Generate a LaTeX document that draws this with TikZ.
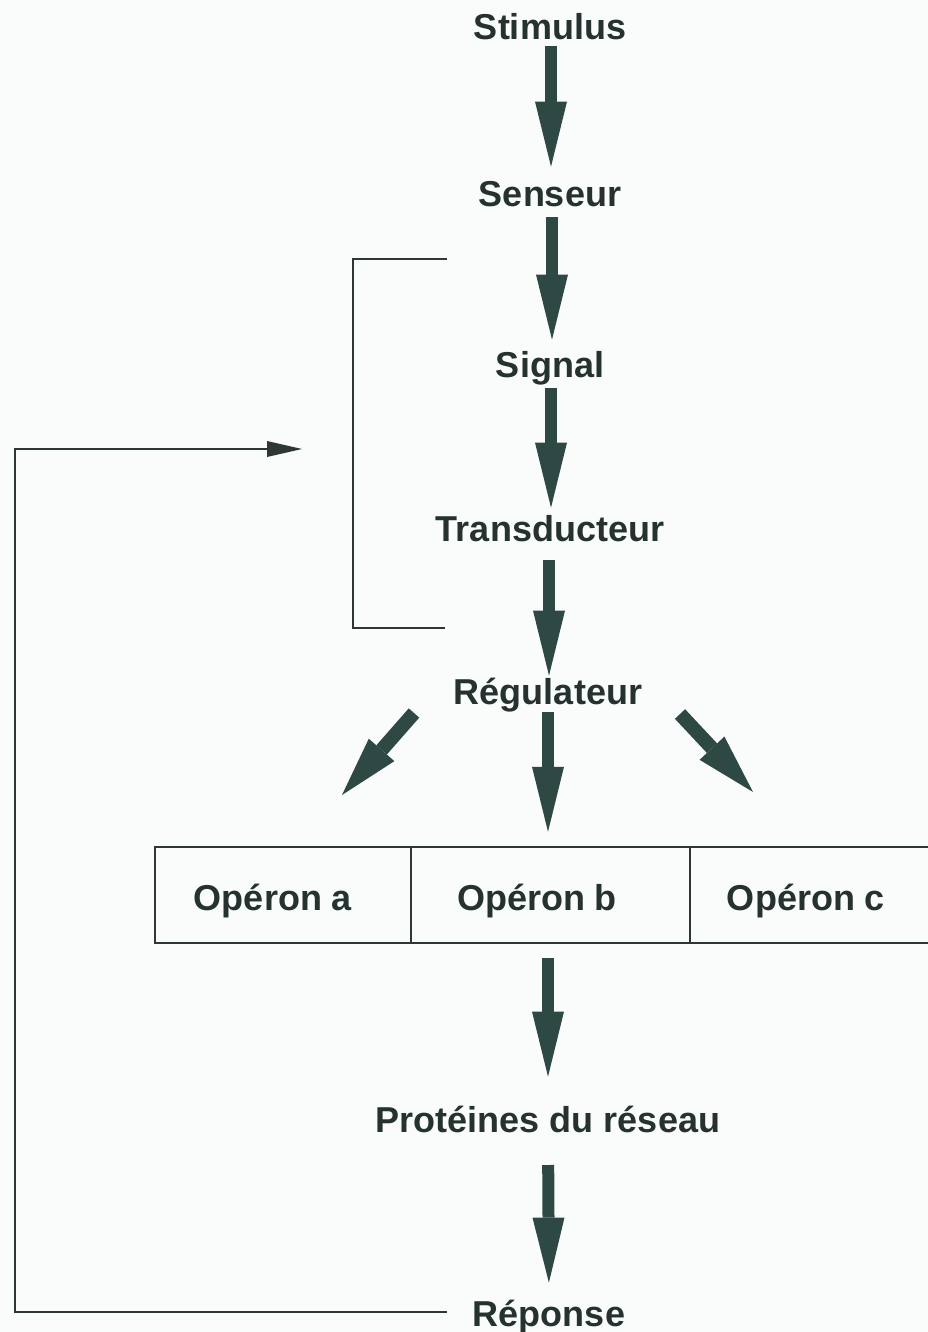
\documentclass[tikz,border=0pt]{standalone}
\usepackage{fontspec}
\setmainfont{Liberation Sans}
\usetikzlibrary{arrows.meta}
\definecolor{arrowc}{RGB}{46,72,67}
\definecolor{textc}{RGB}{38,50,48}
\definecolor{linec}{RGB}{45,55,53}
\definecolor{bgc}{RGB}{250,252,252}
\tikzset{
  lab/.style={inner sep=0pt, text height=26pt, text depth=0pt, anchor=south,
    font=\fontsize{36}{42}\selectfont\bfseries, text=textc},
  fat/.style={draw=arrowc, line width=12pt,
    -{Triangle[length=65pt,width=32pt,line width=0pt]}},
  diag/.style={draw=arrowc, line width=14pt,
    -{Triangle[length=60pt,width=34pt,line width=0pt]}},
  thinline/.style={draw=linec, line width=2.5pt},
  fbarrow/.style={thinline, -{Triangle[length=35pt,width=16pt,line width=0pt]}}
}
\begin{document}
\begin{tikzpicture}[x=1pt,y=-1pt]
\fill[bgc] (0,0) rectangle (928,1332);
\useasboundingbox (0,0) rectangle (928,1332);

% labels
\node[lab] (stim)  at (550,40)   {Stimulus};
\node[lab] (sens)  at (550,207)  {Senseur};
\node[lab] (sig)   at (550,378)  {Signal};
\node[lab] (trans) at (550,542)  {Transducteur};
\node[lab] (reg)   at (548,705)  {Régulateur};
\node[lab] (prot)  at (548,1133) {Protéines du réseau};
\node[lab] (rep)   at (549,1327) {Réponse};

% operon box
\node[thinline, draw, minimum width=780pt, minimum height=96pt, inner sep=0pt]
  (box) at (545,895) {};
\draw[thinline] (411,847) -- (411,943);
\draw[thinline] (690,847) -- (690,943);
\node[lab] (opa) at (273,911) {Opéron a};
\node[lab] (opb) at (537,911) {Opéron b};
\node[lab] (opc) at (806,911) {Opéron c};

% main vertical arrows
\draw[fat, shorten <=6pt, shorten >=14pt] (stim.south -| 551,0) -- (sens.north -| 551,0);
\draw[fat, shorten <=10pt, shorten >=12pt] (sens.south -| 552,0) -- (sig.north -| 552,0);
\draw[fat, shorten <=10pt, shorten >=8pt] (sig.south -| 551,0) -- (trans.north -| 551,0);
\draw[fat, shorten <=18pt, shorten >=3pt] (trans.south -| 549,0) -- (reg.north -| 549,0);
\draw[fat, shorten <=7pt, shorten >=14pt] (reg.south) -- (reg.south |- box.north);
\draw[fat, shorten <=14pt, shorten >=30pt] (prot.north |- box.south) -- (prot.north);
\draw[fat, shorten <=32pt, shorten >=18pt] (prot.south) -- (rep.north);

% diagonal arrows
\coordinate (dl1) at (414,713);
\coordinate (dl2) at (342,795);
\coordinate (dr1) at (680,714);
\coordinate (dr2) at (753,792);
\draw[diag] (dl1) -- (dl2);
\draw[diag] (dr1) -- (dr2);

% bracket
\coordinate (br1) at (447,259);
\coordinate (br2) at (353,628);
\coordinate (br3) at (445,628);
\draw[thinline] (br1) -| (br2) -- (br3);

% feedback
\coordinate (fbs) at (447,1312);
\coordinate (fbc) at (15,449);
\coordinate (fbe) at (302,449);
\draw[fbarrow] (fbs) -| (fbc) -- (fbe);
\end{tikzpicture}
\end{document}
